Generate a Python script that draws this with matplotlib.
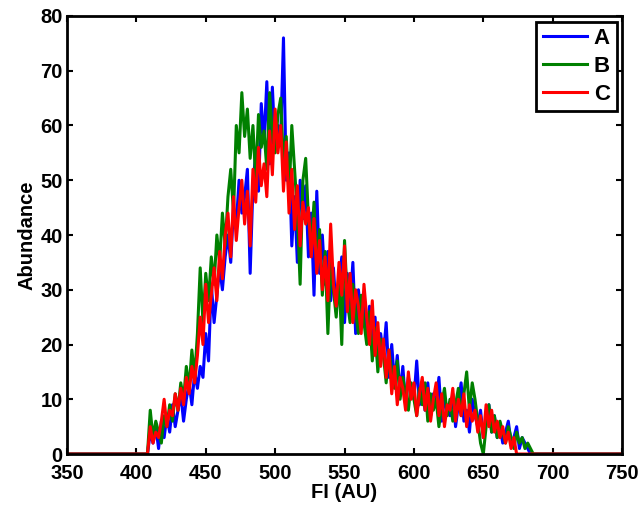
import numpy as np
import matplotlib
matplotlib.use("Agg")
import matplotlib.pyplot as plt

# FI bins (2 AU steps) where the curves are non-zero
fi_start = 406
fi_step = 2

# Abundance values, 406..686 AU
abund_a = [0, 0, 4, 2, 5, 1, 6, 3, 7, 4,
           9, 5, 8, 11, 6, 10, 13, 9, 15, 12,
           16, 14, 22, 17, 31, 24, 29, 34, 30, 36,
           40, 35, 45, 42, 50, 44, 47, 52, 33, 49,
           55, 48, 64, 57, 68, 53, 67, 56, 60, 58,
           76, 50, 55, 38, 47, 35, 50, 43, 49, 36,
           44, 29, 48, 33, 40, 31, 37, 28, 34, 26,
           31, 36, 24, 33, 27, 35, 22, 30, 25, 28,
           21, 27, 19, 25, 16, 22, 18, 24, 14, 20,
           13, 18, 11, 16, 9, 14, 12, 10, 17, 9,
           12, 8, 13, 7, 11, 9, 14, 6, 10, 8,
           7, 11, 5, 9, 13, 6, 8, 4, 10, 7,
           5, 8, 3, 6, 9, 4, 7, 3, 5, 2,
           4, 6, 2, 3, 5, 1, 3, 2, 1, 0,
           0]

abund_b = [0, 0, 8, 3, 6, 4, 2, 7, 5, 9,
           6, 11, 8, 13, 10, 16, 12, 19, 14, 22,
           34, 24, 33, 28, 36, 31, 40, 35, 44, 38,
           47, 52, 44, 60, 55, 66, 58, 63, 54, 60,
           50, 62, 56, 59, 52, 66, 58, 55, 62, 65,
           53, 58, 47, 60, 52, 44, 31, 50, 54, 43,
           38, 46, 34, 41, 29, 37, 22, 35, 30, 25,
           33, 20, 39, 28, 24, 31, 26, 22, 29, 24,
           20, 26, 17, 23, 15, 21, 18, 13, 19, 15,
           12, 17, 10, 14, 11, 8, 13, 10, 7, 12,
           9, 13, 6, 11, 8, 10, 5, 9, 12, 7,
           10, 6, 9, 12, 7, 11, 15, 8, 13, 10,
           6, 2, 0, 5, 9, 4, 7, 3, 6, 4,
           2, 5, 3, 1, 4, 2, 3, 1, 2, 1,
           0]

abund_c = [0, 0, 5, 2, 4, 3, 6, 10, 5, 8,
           7, 11, 8, 12, 9, 14, 11, 16, 13, 18,
           25, 20, 31, 24, 29, 34, 28, 37, 32, 40,
           44, 36, 47, 39, 45, 50, 42, 48, 38, 52,
           46, 56, 49, 53, 47, 59, 51, 63, 55, 60,
           48, 57, 44, 52, 41, 49, 38, 46, 42, 45,
           36, 43, 33, 39, 30, 36, 28, 42, 31, 27,
           35, 29, 38, 26, 33, 24, 30, 27, 22, 31,
           25, 20, 28, 18, 24, 16, 21, 14, 19, 11,
           16, 9, 14, 12, 8, 15, 10, 13, 7, 11,
           14, 8, 12, 6, 10, 13, 7, 11, 5, 9,
           8, 12, 6, 10, 7, 11, 5, 9, 6, 8,
           4, 7, 3, 9, 5, 8, 4, 6, 3, 5,
           2, 4, 1, 3, 0, 0, 0, 0, 0, 0,
           0]

labels = ['A', 'B', 'C']
colors = ['#0000ff', '#008000', '#ff0000']
x_ticks = [350, 400, 450, 500, 550, 600, 650, 700, 750]
y_ticks = [0, 10, 20, 30, 40, 50, 60, 70, 80]

plt.rcParams['font.family'] = ['Liberation Sans', 'DejaVu Sans']
plt.rcParams['font.weight'] = 'bold'

fig = plt.figure(figsize=(6.44, 5.09), dpi=100)
ax = fig.add_axes([0.104, 0.108, 0.862, 0.8606])

# full axis range, zero outside the measured bins
x_full = np.arange(350, 752, fi_step)
for vals, lab, col in zip([abund_a, abund_b, abund_c], labels, colors):
    y_full = np.zeros(len(x_full))
    i0 = int((fi_start - 350) / fi_step)
    y_full[i0:i0 + len(vals)] = vals
    ax.plot(x_full, y_full, color=col, lw=2.2, label=lab)

ax.set_xlim(350, 750)
ax.set_ylim(0, 80)
ax.set_xticks(x_ticks)
ax.set_yticks(y_ticks)
ax.tick_params(direction='in', top=True, right=True, length=4, width=1.5,
               labelsize=14.5)
ax.tick_params(axis='x', pad=7)
ax.tick_params(axis='y', pad=3)
for lab in ax.get_xticklabels() + ax.get_yticklabels():
    lab.set_fontweight('bold')
for sp in ax.spines.values():
    sp.set_linewidth(2)

ax.set_xlabel('FI (AU)', fontsize=14.5, fontweight='bold', labelpad=0)
ax.set_ylabel('Abundance', fontsize=14.5, fontweight='bold', labelpad=3)

leg = ax.legend(loc='upper right', fancybox=False, framealpha=1,
                prop={'size': 16, 'weight': 'bold'}, handlelength=2.0,
                borderaxespad=0.25, labelspacing=0.3, handletextpad=0.3,
                borderpad=0.3)
leg.get_frame().set_edgecolor('black')
leg.get_frame().set_linewidth(2)

fig.savefig('out.png', dpi=100)
